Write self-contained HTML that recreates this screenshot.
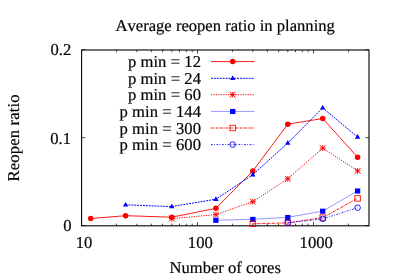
<!DOCTYPE html>
<html><head><meta charset="utf-8"><title>Average reopen ratio in planning</title>
<style>
html,body{margin:0;padding:0;background:#fff;}
body{width:399px;height:279px;overflow:hidden;font-family:"Liberation Serif",serif;}
svg{display:block}
svg text{font-family:"Liberation Serif",serif;font-size:16.6px;fill:#000;font-kerning:none;text-rendering:geometricPrecision;stroke:#000;stroke-width:0.2px;}
</style></head><body>
<svg width="399" height="279" viewBox="0 0 399 279">
<rect width="399" height="279" fill="#fff"/>
<rect x="81.6" y="50.0" width="287.4" height="175.8" fill="none" stroke="#000" stroke-width="1.1"/>
<path d="M116.4,225.8v-2.2M116.4,50.0v2.2M136.8,225.8v-2.2M136.8,50.0v2.2M151.3,225.8v-2.2M151.3,50.0v2.2M162.6,225.8v-2.2M162.6,50.0v2.2M171.8,225.8v-2.2M171.8,50.0v2.2M179.5,225.8v-2.2M179.5,50.0v2.2M186.3,225.8v-2.2M186.3,50.0v2.2M192.2,225.8v-2.2M192.2,50.0v2.2M197.5,225.8v-3.6M197.5,50.0v3.6M232.4,225.8v-2.2M232.4,50.0v2.2M252.8,225.8v-2.2M252.8,50.0v2.2M267.3,225.8v-2.2M267.3,50.0v2.2M278.6,225.8v-2.2M278.6,50.0v2.2M287.8,225.8v-2.2M287.8,50.0v2.2M295.5,225.8v-2.2M295.5,50.0v2.2M302.3,225.8v-2.2M302.3,50.0v2.2M308.2,225.8v-2.2M308.2,50.0v2.2M313.5,225.8v-3.6M313.5,50.0v3.6M348.4,225.8v-2.2M348.4,50.0v2.2M81.6,225.6h3.7M369,225.6h-3.7M81.6,137.7h3.7M369,137.7h-3.7M81.6,49.7h3.7M369,49.7h-3.7" stroke="#000" stroke-width="0.7" fill="none"/>
<path d="M211,61.6H254.6" stroke="#ff0000" stroke-width="0.9" fill="none"/>
<circle cx="232.7" cy="61.6" r="2.75" fill="#ff0000"/>
<path d="M211,78.3H254.6" stroke="#0000ff" stroke-width="1.0" fill="none" stroke-dasharray="1.9 1.0"/>
<path d="M232.7,75.4 L235.4,80.0 L230.0,80.0Z" fill="#0000ff"/>
<path d="M211,94.7H254.6" stroke="#ff0000" stroke-width="1.0" fill="none" stroke-dasharray="1.2 1.25"/>
<path d="M229.8,91.9L235.5,97.5M229.8,97.5L235.5,91.9M229.8,94.7L235.5,94.7M232.7,91.9L232.7,97.5" stroke="#ff0000" stroke-width="1.0" fill="none"/>
<path d="M211,111.4H254.6" stroke="#0000ff" stroke-width="0.42" fill="none"/>
<rect x="230.05" y="108.95" width="5.3" height="5.1" fill="#0000ff"/>
<path d="M211,128.0H254.6" stroke="#ff0000" stroke-width="0.9" fill="none" stroke-dasharray="2.6 0.7 0.7 0.8"/>
<rect x="229.95" y="125.25" width="5.5" height="5.5" fill="none" stroke="#ff0000" stroke-width="0.85"/>
<path d="M211,144.6H254.6" stroke="#0000ff" stroke-width="0.85" fill="none" stroke-dasharray="1.8 1.4 0.8 1.5"/>
<circle cx="232.7" cy="144.6" r="2.8" fill="none" stroke="#0000ff" stroke-width="0.9"/>
<polyline points="90.7,218.5 125.6,215.7 171.8,217.2 215.9,208.3 252.8,171.1 287.8,124.2 322.7,118.5 357.6,157.2" fill="none" stroke="#ff0000" stroke-width="0.9"/>
<polyline points="125.6,204.8 171.8,206.6 215.9,199.2 252.8,174.7 287.8,143.0 322.7,107.9 357.6,137.0" fill="none" stroke="#0000ff" stroke-width="1.0" stroke-dasharray="1.9 1.0"/>
<polyline points="171.8,218.7 215.9,214.6 252.8,201.7 287.8,178.8 322.7,148.1 357.6,170.9" fill="none" stroke="#ff0000" stroke-width="1.0" stroke-dasharray="1.2 1.25"/>
<polyline points="215.9,220.2 252.8,219.3 287.8,217.4 322.7,211.1 357.6,190.9" fill="none" stroke="#0000ff" stroke-width="0.42"/>
<polyline points="252.8,223.8 287.8,222.9 322.7,217.6 357.6,198.4" fill="none" stroke="#ff0000" stroke-width="0.9" stroke-dasharray="2.6 0.7 0.7 0.8"/>
<polyline points="287.8,222.8 322.7,218.9 357.6,207.7" fill="none" stroke="#0000ff" stroke-width="0.85" stroke-dasharray="1.8 1.4 0.8 1.5"/>
<circle cx="90.7" cy="218.5" r="2.75" fill="#ff0000"/>
<circle cx="125.6" cy="215.7" r="2.75" fill="#ff0000"/>
<circle cx="171.8" cy="217.2" r="2.75" fill="#ff0000"/>
<circle cx="215.9" cy="208.3" r="2.75" fill="#ff0000"/>
<circle cx="252.8" cy="171.1" r="2.75" fill="#ff0000"/>
<circle cx="287.8" cy="124.2" r="2.75" fill="#ff0000"/>
<circle cx="322.7" cy="118.5" r="2.75" fill="#ff0000"/>
<circle cx="357.6" cy="157.2" r="2.75" fill="#ff0000"/>
<path d="M125.6,201.9 L128.3,206.5 L122.9,206.5Z" fill="#0000ff"/>
<path d="M171.8,203.7 L174.5,208.3 L169.1,208.3Z" fill="#0000ff"/>
<path d="M215.9,196.3 L218.6,200.9 L213.2,200.9Z" fill="#0000ff"/>
<path d="M252.8,171.8 L255.5,176.4 L250.1,176.4Z" fill="#0000ff"/>
<path d="M287.8,140.1 L290.5,144.7 L285.1,144.7Z" fill="#0000ff"/>
<path d="M322.7,105.0 L325.4,109.6 L320.0,109.6Z" fill="#0000ff"/>
<path d="M357.6,134.1 L360.3,138.7 L354.9,138.7Z" fill="#0000ff"/>
<path d="M168.9,215.8L174.6,221.5M168.9,221.5L174.6,215.8M168.9,218.7L174.6,218.7M171.8,215.8L171.8,221.5" stroke="#ff0000" stroke-width="1.0" fill="none"/>
<path d="M213.0,211.8L218.7,217.4M213.0,217.4L218.7,211.8M213.0,214.6L218.7,214.6M215.9,211.8L215.9,217.4" stroke="#ff0000" stroke-width="1.0" fill="none"/>
<path d="M250.0,198.8L255.7,204.5M250.0,204.5L255.7,198.8M250.0,201.7L255.7,201.7M252.8,198.8L252.8,204.5" stroke="#ff0000" stroke-width="1.0" fill="none"/>
<path d="M284.9,176.0L290.6,181.7M284.9,181.7L290.6,176.0M284.9,178.8L290.6,178.8M287.8,176.0L287.8,181.7" stroke="#ff0000" stroke-width="1.0" fill="none"/>
<path d="M319.8,145.2L325.5,150.9M319.8,150.9L325.5,145.2M319.8,148.1L325.5,148.1M322.7,145.2L322.7,150.9" stroke="#ff0000" stroke-width="1.0" fill="none"/>
<path d="M354.8,168.1L360.5,173.8M354.8,173.8L360.5,168.1M354.8,170.9L360.5,170.9M357.6,168.1L357.6,173.8" stroke="#ff0000" stroke-width="1.0" fill="none"/>
<rect x="213.22" y="217.75" width="5.3" height="5.1" fill="#0000ff"/>
<rect x="250.20" y="216.85" width="5.3" height="5.1" fill="#0000ff"/>
<rect x="285.12" y="214.95" width="5.3" height="5.1" fill="#0000ff"/>
<rect x="320.04" y="208.65" width="5.3" height="5.1" fill="#0000ff"/>
<rect x="354.95" y="188.45" width="5.3" height="5.1" fill="#0000ff"/>
<rect x="250.10" y="221.05" width="5.5" height="5.5" fill="none" stroke="#ff0000" stroke-width="0.85"/>
<rect x="285.02" y="220.15" width="5.5" height="5.5" fill="none" stroke="#ff0000" stroke-width="0.85"/>
<rect x="319.94" y="214.85" width="5.5" height="5.5" fill="none" stroke="#ff0000" stroke-width="0.85"/>
<rect x="354.85" y="195.65" width="5.5" height="5.5" fill="none" stroke="#ff0000" stroke-width="0.85"/>
<circle cx="287.8" cy="222.8" r="2.8" fill="none" stroke="#0000ff" stroke-width="0.9"/>
<circle cx="322.7" cy="218.9" r="2.8" fill="none" stroke="#0000ff" stroke-width="0.9"/>
<circle cx="357.6" cy="207.7" r="2.8" fill="none" stroke="#0000ff" stroke-width="0.9"/>
<g opacity="0.99"><text x="201.0" y="67.1" text-anchor="end" letter-spacing="0.06">p min = 12</text>
<text x="201.0" y="83.8" text-anchor="end" letter-spacing="0.06">p min = 24</text>
<text x="201.0" y="100.2" text-anchor="end" letter-spacing="0.06">p min = 60</text>
<text x="201.0" y="116.9" text-anchor="end" letter-spacing="0.06">p min = 144</text>
<text x="201.0" y="133.5" text-anchor="end" letter-spacing="0.06">p min = 300</text>
<text x="201.0" y="150.1" text-anchor="end" letter-spacing="0.06">p min = 600</text>
<text x="225.2" y="31.4" text-anchor="middle">Average reopen ratio in planning</text>
<text x="225.2" y="273.1" text-anchor="middle">Number of cores</text>
<text transform="translate(18.7,137.9) rotate(-90)" text-anchor="middle" letter-spacing="0.16">Reopen ratio</text>
<text x="71.3" y="55.3" text-anchor="end">0.2</text>
<text x="71.0" y="143.7" text-anchor="end">0.1</text>
<text x="71.5" y="231.3" text-anchor="end">0</text>
<text x="84.0" y="248.2" text-anchor="middle">10</text>
<text x="200.3" y="248.2" text-anchor="middle">100</text>
<text x="316.2" y="248.2" text-anchor="middle">1000</text></g>
</svg>
</body></html>
